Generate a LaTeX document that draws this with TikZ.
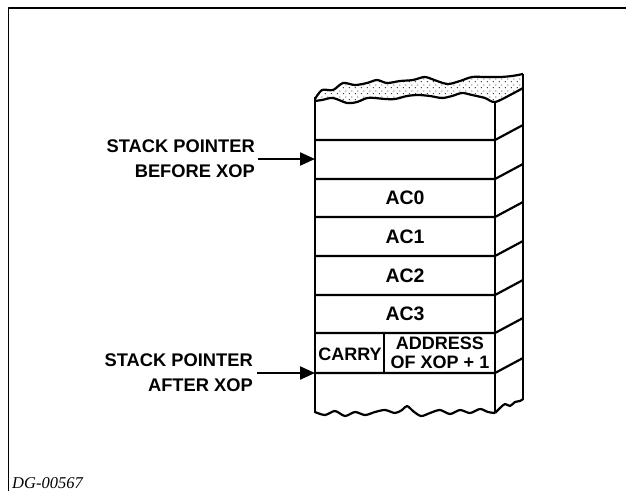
\documentclass[tikz,border=0pt]{standalone}
\usepackage{fontspec}
\setmainfont{Liberation Sans}
\newfontfamily\serifit{Liberation Serif}
\usetikzlibrary{arrows.meta,patterns.meta}
\tikzdeclarepattern{name=stipple, type=uncolored,
  bounding box={(0pt,0pt) and (6pt,6pt)}, tile size={(6pt,6pt)},
  code={\fill (1.5pt,1.5pt) circle (0.65pt); \fill (4.5pt,4.5pt) circle (0.65pt);}}
\begin{document}
\begin{tikzpicture}[x=1pt,y=-1pt,line join=round,
  wall/.style={line width=2.2pt},
  frame/.style={line width=1.6pt},
  lbl/.style={font=\bfseries\fontsize{18.3}{25}\selectfont, align=right, anchor=east, inner sep=0pt},
  cell/.style={font=\bfseries\fontsize{18}{19}\selectfont, inner sep=0pt, align=center},
  accell/.style={cell, font=\bfseries\fontsize{19.5}{20}\selectfont},
  ptr/.style={line width=2.2pt, -{Triangle[length=15pt,width=13pt]}}]
\useasboundingbox (0,0) rectangle (626,491);
% frame
\draw[frame] (626,8) -- (8.5,8) -- (8.5,491);
\node[font=\serifit\itshape\fontsize{16.5}{16}\selectfont, anchor=south west, inner sep=0pt] (dg) at (12,489) {DG-00567};
% torn top (stippled)
\path[pattern=stipple] plot[smooth] coordinates {(315,97) (322,90) (333,90) (343,83) (355,85) (367,83) (377,80) (387,83) (400,81) (413,80) (425,77) (437,81) (448,84) (460,81) (472,77) (485,77) (500,77) (512,76) (523,74)}
  -- (523,86) -- plot[smooth] coordinates {(523,86) (512,93) (495,102) (485,98) (472,95) (462,93) (452,96) (442,98) (430,96) (418,95) (407,96) (395,99) (385,99) (375,98) (367,98) (357,102) (347,103) (333,98) (322,100) (315,101)} -- cycle;
\draw[wall] plot[smooth] coordinates {(315,99) (322,90) (333,90) (343,83) (355,85) (367,83) (377,80) (387,83) (400,81) (413,80) (425,77) (437,81) (448,84) (460,81) (472,77) (485,77) (500,77) (512,76) (523,74)};
\draw[wall] plot[smooth] coordinates {(523,88) (512,94) (495,102) (485,98) (472,95) (462,93) (452,96) (442,98) (430,96) (418,95) (407,96) (395,99) (385,99) (375,98) (367,98) (357,102) (347,103) (333,98) (322,100) (315,101)};
% torn bottom
\draw[wall] plot[smooth] coordinates {(315,412) (325,415) (335,411) (345,416) (355,412) (365,415) (375,412) (385,410) (395,413) (402,410) (407,406) (413,411) (421,416) (430,413) (440,410) (450,414) (460,410) (470,413) (480,409) (488,412) (495,413)};
\draw[wall] plot[smooth] coordinates {(495,413) (500,408) (505,404) (510,406) (515,402) (520,401) (523,399)};
% verticals
\draw[wall] (315,97) -- (315,413);
\draw[wall] (495,102) -- (495,413);
\draw[wall] (523,74) -- (523,400);
% horizontal lines with side diagonals
\foreach \y in {140,179,217,256,295,333,373}{
  \draw[wall] (315,\y) -- (495,\y) -- (523,\y-15);
}
\draw[wall] (384,333) -- (384,373);
% cell labels
\node[accell] (ac0) at (405,198) {AC0};
\node[accell] (ac1) at (405,237) {AC1};
\node[accell] (ac2) at (405,276) {AC2};
\node[accell] (ac3) at (405,314) {AC3};
\node[cell] (carry) at (350,354) {CARRY};
\node[cell] (addr) at (440,353) {ADDRESS\\OF XOP + 1};
% pointers
\coordinate (sb) at (315,159);
\coordinate (sa) at (315,373);
\node[lbl] (before) at (255,159) {STACK POINTER\\BEFORE XOP};
\node[lbl] (after) at (253,373) {STACK POINTER\\AFTER XOP};
\draw[ptr] (before.east) ++(3,0) -- (sb);
\draw[ptr] (after.east) ++(4,0) -- (sa);
\end{tikzpicture}
\end{document}
